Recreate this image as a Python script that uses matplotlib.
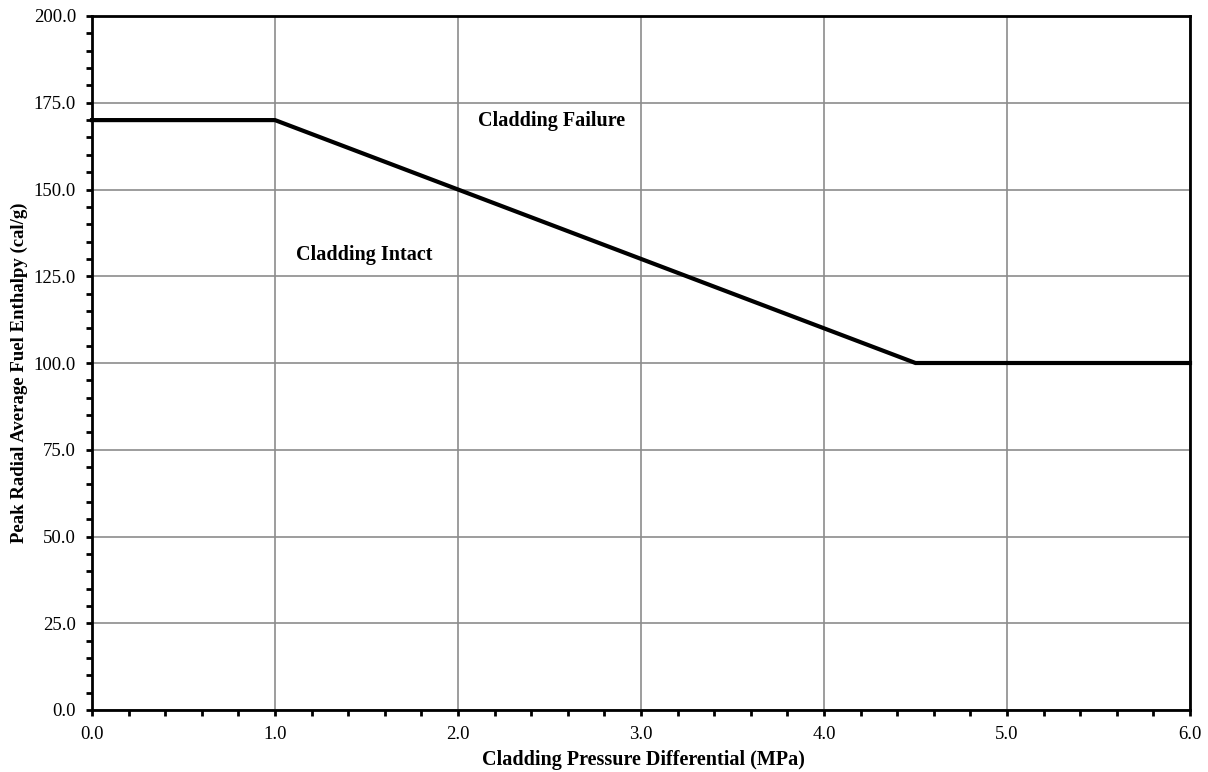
import matplotlib
matplotlib.use("Agg")
import matplotlib.pyplot as plt
from matplotlib.ticker import MultipleLocator, FormatStrFormatter

plt.rcParams['font.family'] = ['Liberation Serif', 'DejaVu Serif']

pressure = [0.0, 1.0, 2.7, 4.5, 6.0]
enthalpy = [170.0, 170.0, 136.0, 100.0, 100.0]

fig = plt.figure(figsize=(12.08, 7.72), dpi=100)
ax = fig.add_axes([92/1208, 1-710/772, 1098/1208, 694/772])

ax.plot(pressure, enthalpy, color='black', lw=3, solid_joinstyle='miter', zorder=3, clip_on=False)

ax.set_xlim(0, 6)
ax.set_ylim(0, 200)
ax.xaxis.set_major_locator(MultipleLocator(1.0))
ax.xaxis.set_minor_locator(MultipleLocator(0.2))
ax.yaxis.set_major_locator(MultipleLocator(25))
ax.yaxis.set_minor_locator(MultipleLocator(5))
ax.xaxis.set_major_formatter(FormatStrFormatter('%.1f'))
ax.yaxis.set_major_formatter(FormatStrFormatter('%.1f'))
ax.grid(True, which='major', color='#8c8c8c', lw=1.2)
ax.set_axisbelow(True)
for s in ax.spines.values():
    s.set_linewidth(2)
ax.tick_params(which='both', direction='out', width=2, labelsize=13.5, colors='black')
ax.tick_params(which='major', length=4.5, pad=7)
ax.tick_params(which='minor', length=4)

ax.set_xlabel('Cladding Pressure Differential (MPa)', fontsize=14.5, fontweight='bold', va='center')
ax.set_ylabel('Peak Radial Average Fuel Enthalpy (cal/g)', fontsize=13.5, fontweight='bold', va='center')
ax.xaxis.set_label_coords(0.502, -0.072)
ax.yaxis.set_label_coords(-0.0665, 0.486)

ax.text(2.51, 169.7, 'Cladding Failure', fontsize=14.5, fontweight='bold', ha='center', va='center')
ax.text(1.49, 131.1, 'Cladding Intact', fontsize=14.5, fontweight='bold', ha='center', va='center')

fig.savefig('out.png', dpi=100)
